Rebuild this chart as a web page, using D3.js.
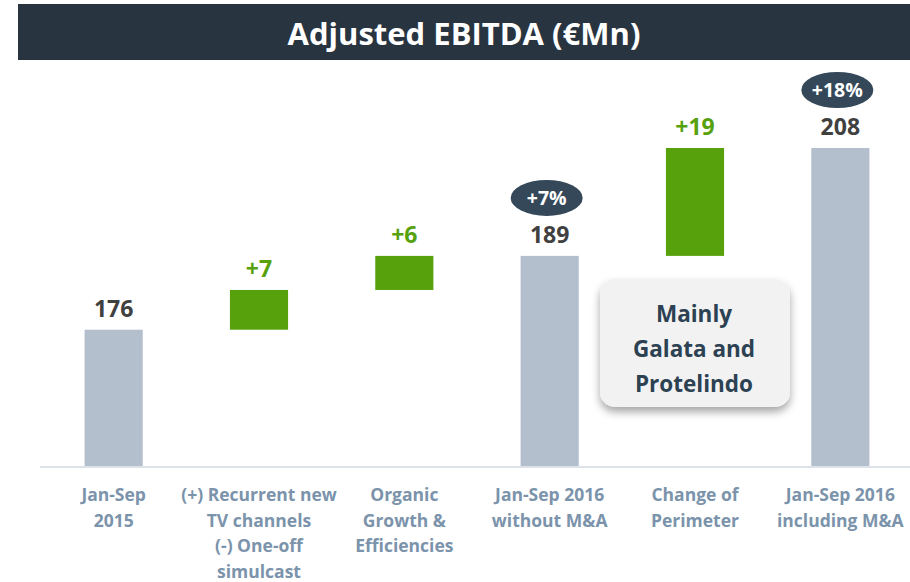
<!DOCTYPE html>
<html>
<head>
<meta charset="utf-8">
<script src="https://cdn.jsdelivr.net/npm/d3@7"></script>
<style>
    body { margin: 0; background: #ffffff; }
    svg { display: block; font-family: "Open Sans", Lato, sans-serif; }
</style>
</head>
<body>
<div id="chart"></div>
<script>
// chart values
const categories = [
    ["Jan-Sep", "2015"],
    ["(+) Recurrent new", "TV channels", "(-) One-off", "simulcast"],
    ["Organic", "Growth &", "Efficiencies"],
    ["Jan-Sep 2016", "without M&A"],
    ["Change of", "Perimeter"],
    ["Jan-Sep 2016", "including M&A"]
];
const stepValues = [176, 7, 6, 189, 19, 208];
const stepTypes = ["total", "delta", "delta", "total", "delta", "total"];
const growthLabels = [null, null, null, "+7%", null, "+18%"];
const calloutLines = ["Mainly", "Galata and", "Protelindo"];
const titleText = "Adjusted EBITDA (€Mn)";

const colors = {
    title: "#28343f",
    total: "#b3bfcd",
    delta: "#57a10d",
    totalText: "#404040",
    category: "#7b93ab",
    bubble: "#34485a",
    callout: "#2c4152",
    axis: "#dde2e8"
};

const width = 910;
const height = 582;
const baseY = 466;
const axisFloor = 152; // value sitting on the baseline (axis is cut)

// build the waterfall rows
let running = 0;
const rows = stepValues.map((v, i) => {
    let start, end;
    if (stepTypes[i] === "total") {
        start = axisFloor;
        end = v;
        running = v;
    } else {
        start = running;
        end = running + v;
        running = end;
    }
    return { i, value: v, type: stepTypes[i], start, end, growth: growthLabels[i] };
});

const svg = d3.select("#chart").append("svg")
    .attr("width", width)
    .attr("height", height);

const defs = svg.append("defs");
const shadow = defs.append("filter")
    .attr("id", "shadow")
    .attr("x", "-20%").attr("y", "-20%")
    .attr("width", "140%").attr("height", "150%");
shadow.append("feDropShadow")
    .attr("dx", 0).attr("dy", 5)
    .attr("stdDeviation", 4)
    .attr("flood-color", "#000")
    .attr("flood-opacity", 0.35);

// title bar
svg.append("rect")
    .attr("x", 18).attr("y", 4)
    .attr("width", width - 18).attr("height", 56)
    .attr("fill", colors.title);
svg.append("text")
    .attr("x", 18 + (width - 18) / 2)
    .attr("y", 45)
    .attr("text-anchor", "middle")
    .attr("fill", "#fff")
    .attr("font-size", 31)
    .attr("font-weight", 700)
    .text(titleText);

// scales
const x = d3.scaleBand()
    .domain(rows.map(d => d.i))
    .range([41, 913])
    .paddingInner(0.6)
    .paddingOuter(0.3);

const y = d3.scaleLinear()
    .domain([axisFloor, 208])
    .range([baseY, 148]);

// bars
svg.append("g").selectAll("rect")
    .data(rows)
    .join("rect")
    .attr("x", d => x(d.i))
    .attr("width", x.bandwidth())
    .attr("y", d => y(Math.max(d.start, d.end)))
    .attr("height", d => Math.abs(y(d.start) - y(d.end)))
    .attr("fill", d => d.type === "total" ? colors.total : colors.delta);

// baseline
svg.append("line")
    .attr("x1", 40).attr("x2", width)
    .attr("y1", baseY + 1).attr("y2", baseY + 1)
    .attr("stroke", colors.axis)
    .attr("stroke-width", 2);

// value labels
svg.append("g").selectAll("text")
    .data(rows)
    .join("text")
    .attr("x", d => x(d.i) + x.bandwidth() / 2)
    .attr("y", d => y(Math.max(d.start, d.end)) - 13)
    .attr("text-anchor", "middle")
    .attr("font-size", 23)
    .attr("font-weight", 700)
    .attr("fill", d => d.type === "total" ? colors.totalText : colors.delta)
    .text(d => d.type === "total" ? d.value : "+" + d.value);

// growth bubbles
const bubbles = svg.append("g").selectAll("g")
    .data(rows.filter(d => d.growth))
    .join("g")
    .attr("transform", d => `translate(${x(d.i) + x.bandwidth() / 2 - 3}, ${y(d.end) - 58})`);
bubbles.append("ellipse")
    .attr("rx", 36).attr("ry", 18)
    .attr("fill", colors.bubble);
bubbles.append("text")
    .attr("y", 7)
    .attr("text-anchor", "middle")
    .attr("font-size", 19.5)
    .attr("font-weight", 700)
    .attr("fill", "#fff")
    .text(d => d.growth);

// category labels
const catGroup = svg.append("g").selectAll("text")
    .data(rows)
    .join("text")
    .attr("x", d => x(d.i) + x.bandwidth() / 2)
    .attr("y", 501)
    .attr("text-anchor", "middle")
    .attr("font-size", 17.5)
    .attr("font-weight", 700)
    .attr("fill", colors.category);
catGroup.selectAll("tspan")
    .data(d => categories[d.i])
    .join("tspan")
    .attr("x", function() { return d3.select(this.parentNode).attr("x"); })
    .attr("dy", (d, k) => k === 0 ? 0 : 25.5)
    .text(d => d);

// callout box
const callout = svg.append("g").attr("transform", "translate(600, 279)");
callout.append("rect")
    .attr("width", 190).attr("height", 128)
    .attr("rx", 15)
    .attr("fill", "#f2f2f2")
    .attr("filter", "url(#shadow)");
callout.append("text")
    .attr("text-anchor", "middle")
    .attr("font-size", 22.5)
    .attr("font-weight", 700)
    .attr("fill", colors.callout)
    .selectAll("tspan")
    .data(calloutLines)
    .join("tspan")
    .attr("x", 94)
    .attr("y", (d, k) => 43 + k * 35)
    .text(d => d);
</script>
</body>
</html>
